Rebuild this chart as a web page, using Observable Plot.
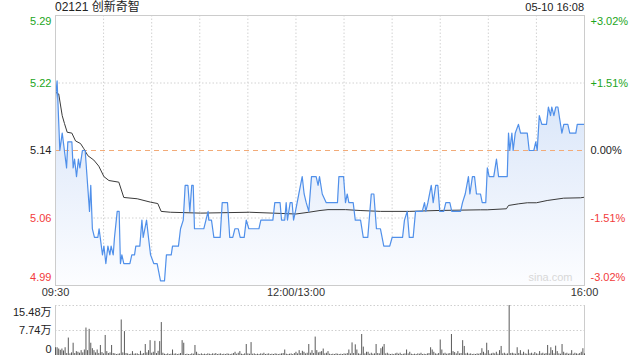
<!DOCTYPE html>
<html><head><meta charset="utf-8">
<script src="https://cdn.jsdelivr.net/npm/d3@7"></script>
<script src="https://cdn.jsdelivr.net/npm/@observablehq/plot@0.6"></script>
<style>
body{margin:0;background:#fff;font-family:Arial,"Liberation Sans","Noto Sans CJK SC",sans-serif;}
#wrap{position:relative;width:640px;height:360px;overflow:hidden;}
.hdr{position:absolute;top:0;font-size:12px;color:#222;line-height:14px;white-space:nowrap;}
#main,#vol{position:absolute;left:0;}
#main{top:0;} #vol{top:300px;}
</style></head><body>
<div id="wrap">
  <div class="hdr" id="title" style="left:55px;">02121 创新奇智</div>
  <div class="hdr" id="stamp" style="right:56px;font-size:11px;">05-10 16:08</div>
  <div id="main"></div>
  <div id="vol"></div>
</div>
<script>
// ---- data ----
const stockCode = "02121";
const stockName = "创新奇智";
const prevClose = 5.14;
const pctRange = 0.0302;
const yTickLabels = ["5.29", "5.22", "5.14", "5.06", "4.99"];
const pctTickLabels = ["+3.02%", "+1.51%", "0.00%", "-1.51%", "-3.02%"];
const xTickMinutes = [0, 150, 330];
const xTickLabels = ["09:30", "12:00/13:00", "16:00"];
const gridMinutes = [30, 60, 90, 120, 150, 180, 210, 240, 270, 300];
const volTickValues = [15.48, 7.74, 0];
const volTickLabels = ["15.48万", "7.74万", "0"];

// price vertices: minutes since 09:30 (lunch removed) and price
const priceT = [0,1,2.7,4.2,6.9,7.7,10.2,11,11.9,13.1,14.3,15.2,16.8,18.5,21.2,22,23,24.3,26.4,27.2,29.3,30.2,31.4,32.7,33.9,34.7,36,36.8,38.5,39.7,40.5,41.4,42.6,46.4,47.6,49.3,50.1,52.6,53.9,54.7,56.8,58,59.3,61.3,63.4,65.5,68,69.2,72.2,73,76.7,78,79.7,80.9,82.6,83.8,85,85.9,86.7,92.5,95.2,95.6,97.3,98.8,102.7,104,107.3,108.7,110.6,111.9,114,115.2,117.7,119,120.6,126.9,128.1,135.6,136.8,140.1,141,143,143.9,144.7,146.4,147.6,148.5,149.7,151.8,153.9,155.1,156.4,158,159.7,162.6,163.8,164.7,166.4,168.9,175.9,176.8,179.7,180.9,182,183,185.7,187,190.3,192,194.8,197,198.6,200.2,202.7,204.8,208.5,210,216.5,217.7,219.4,220.7,223.1,224.6,228.8,230.2,231,232.3,234.4,235.6,237.2,238.5,239.7,242.2,243.5,246,247.2,252.7,253.9,255.6,257.6,258.5,260.1,261.4,262.6,265.1,266.2,268.4,269.4,270.5,273.4,275.1,276.4,281.8,282.6,283.4,284.7,285.5,286.8,288.8,290.1,294.3,295.5,298.4,299.6,300.5,301.8,303.4,306.3,307.5,308.8,309.6,310.9,312.1,313.4,314.2,315.9,317.1,319.6,320.8,324.6,325.5,330];
const priceP = [5.20,5.22,5.14,5.16,5.12,5.15,5.15,5.12,5.13,5.11,5.13,5.12,5.14,5.14,5.07,5.10,5.05,5.04,5.04,5.05,5.02,5.03,5.01,5.03,5.02,5.03,5.02,5.04,5.07,5.07,5.01,5.02,5.01,5.01,5.02,5.02,5.03,5.03,5.06,5.04,5.06,5.04,5.02,5.01,5.01,4.99,4.99,5.02,5.02,5.03,5.03,5.05,5.06,5.10,5.10,5.07,5.10,5.10,5.05,5.05,5.07,5.06,5.06,5.04,5.04,5.08,5.08,5.04,5.04,5.05,5.05,5.04,5.04,5.06,5.05,5.05,5.06,5.06,5.08,5.08,5.06,5.06,5.08,5.06,5.08,5.08,5.06,5.07,5.09,5.11,5.09,5.08,5.07,5.11,5.11,5.10,5.11,5.09,5.08,5.08,5.11,5.11,5.08,5.09,5.08,5.08,5.06,5.06,5.04,5.04,5.09,5.09,5.05,5.05,5.03,5.03,5.04,5.04,5.06,5.07,5.04,5.04,5.07,5.07,5.08,5.07,5.08,5.10,5.08,5.10,5.10,5.07,5.07,5.08,5.08,5.07,5.07,5.08,5.09,5.11,5.09,5.11,5.11,5.09,5.09,5.08,5.08,5.12,5.11,5.11,5.13,5.11,5.11,5.16,5.14,5.16,5.14,5.16,5.17,5.16,5.16,5.14,5.14,5.15,5.14,5.18,5.17,5.17,5.19,5.18,5.19,5.18,5.19,5.19,5.18,5.16,5.17,5.17,5.16,5.16,5.17,5.17];

// average price line vertices
const avgT = [0,2,4.2,5.6,7.3,10.2,12.5,15.6,17.7,20.2,23.9,27,30.2,33.3,39.5,42.6,51,59.3,63.8,65.9,71.7,90.5,121,150,158,165,170,181,190,202.7,221,238,265,269.3,281.3,282.6,289,294.3,300,306.7,317,327.5,330];
const avgP = [5.207,5.205,5.18,5.171,5.161,5.16,5.151,5.148,5.142,5.134,5.129,5.122,5.11,5.1055,5.1036,5.086,5.0845,5.0806,5.079,5.070,5.069,5.068,5.069,5.067,5.069,5.071,5.072,5.072,5.071,5.070,5.070,5.071,5.0718,5.0718,5.073,5.0768,5.0787,5.0799,5.0799,5.0825,5.0852,5.0856,5.0863];

// per-minute volume, in 万 (10k shares), minutes 0..330
const volWan = [
2.4,2.4,2.0,1.6,2.0,1.4,2.4,0.6,5.4,0.5,
0.8,3.8,0.6,1.2,1.0,0.7,1.5,0.8,1.7,8.5,
1.5,8.1,3.8,2.1,1.5,0.8,1.7,0.6,3.1,0.9,
0.5,6.2,1.2,0.6,0.8,3.1,0.6,0.5,0.3,0.4,
0.5,11.0,0.8,7.4,0.6,0.5,0.3,0.4,1.2,0.4,
0.5,0.5,0.3,1.3,0.4,0.6,3.4,0.8,1.5,4.6,
0.7,1.0,4.4,0.6,1.3,4.3,10.2,0.7,0.4,0.3,
0.5,0.3,0.4,1.7,0.4,0.5,0.3,0.4,0.6,4.6,
3.8,0.3,0.4,0.3,0.3,0.5,0.4,3.1,1.0,0.4,
0.3,0.5,0.3,0.4,0.3,0.5,0.4,0.3,0.5,0.4,
0.6,0.3,0.4,0.5,0.3,0.4,0.3,0.5,0.4,0.3,
0.4,0.6,1.0,0.4,0.7,1.2,0.4,0.3,0.5,3.4,
0.5,0.4,4.0,0.4,0.5,0.3,0.4,0.3,0.5,0.4,
0.7,0.3,0.4,0.5,0.3,0.4,0.3,0.5,0.4,0.3,
0.4,0.5,0.6,1.7,0.4,0.3,0.4,0.5,0.3,0.6,
1.0,0.5,1.5,0.6,1.3,1.0,0.5,0.7,3.4,0.7,
1.5,0.6,5.7,1.5,0.8,1.0,1.2,2.0,0.5,0.7,
1.2,0.4,0.3,0.4,0.3,0.5,0.4,0.3,0.4,0.3,
0.5,0.4,0.6,1.7,0.5,3.9,0.6,3.3,1.7,0.5,
0.4,6.5,2.6,0.5,1.0,1.0,0.4,0.7,0.4,0.5,
3.4,0.6,0.5,2.1,2.6,3.4,0.5,0.7,0.4,0.3,
0.4,0.3,0.5,0.7,0.4,0.7,0.3,0.4,0.5,1.7,
0.5,1.0,0.4,0.3,0.4,0.3,0.5,0.4,0.7,0.3,
0.4,0.3,0.5,0.6,2.4,1.7,1.0,0.5,0.4,0.6,
4.8,1.7,0.5,0.7,0.4,0.5,0.6,6.5,1.2,0.9,
0.5,1.2,0.5,0.6,4.6,2.8,0.5,0.7,0.4,0.5,
0.3,0.4,0.3,0.5,0.4,0.6,2.1,1.0,0.5,3.8,
1.5,0.4,0.5,0.7,0.5,1.0,0.4,1.5,2.8,0.5,
0.7,0.4,0.5,15.48,0.6,0.7,0.5,0.4,2.4,0.6,
1.5,0.4,1.0,0.5,0.4,1.7,0.5,0.7,0.4,0.9,
0.5,0.4,1.2,0.5,0.7,0.4,0.6,3.1,0.5,2.4,
1.5,0.5,2.9,1.2,0.5,0.4,3.4,1.0,0.5,0.7,
0.4,0.5,1.5,0.4,0.7,0.5,0.4,0.6,1.0,2.1,0.5];

// ---- styling constants ----
const GREEN = "#1ca51c", RED = "#f23b3b", BLACK = "#222";
const tickColors = [GREEN, GREEN, BLACK, RED, RED];

// ---- derived tables ----
const yMax = prevClose * (1 + pctRange), yMin = prevClose * (1 - pctRange);
const yTickValues = [yMax, prevClose * (1 + pctRange / 2), prevClose, prevClose * (1 - pctRange / 2), yMin];
const ticks = yTickValues.map((v, i) => ({v, l: yTickLabels[i], r: pctTickLabels[i], c: tickColors[i], i}));
const priceRows = priceT.map((t, i) => ({t, p: priceP[i]}));
const avgRows = avgT.map((t, i) => ({t, p: avgP[i]}));
const xTicks = xTickMinutes.map((t, i) => ({t, l: xTickLabels[i]}));
const volRows = volWan.map((v, t) => ({t, v}));
const volTicks = volTickValues.map((v, i) => ({v, l: volTickLabels[i], i}));

const defsMark = () => {
  const ns = "http://www.w3.org/2000/svg";
  const defs = document.createElementNS(ns, "defs");
  const g = document.createElementNS(ns, "linearGradient");
  g.setAttribute("id", "areaGrad");
  g.setAttribute("gradientUnits", "userSpaceOnUse");
  g.setAttribute("x1", 0); g.setAttribute("x2", 0);
  g.setAttribute("y1", 15); g.setAttribute("y2", 285);
  [["0", "#cadcf7"], ["0.55", "#e6eefb"], ["1", "#fcfdff"]].forEach(([o, c]) => {
    const s = document.createElementNS(ns, "stop");
    s.setAttribute("offset", o); s.setAttribute("stop-color", c);
    g.appendChild(s);
  });
  defs.appendChild(g);
  return defs;
};

const common = {
  width: 640, marginLeft: 55, marginRight: 56,
  style: {fontFamily: "Arial, 'Liberation Sans', 'Noto Sans CJK SC', sans-serif", fontSize: "11px", background: "transparent", overflow: "visible"}
};

const main = Plot.plot({
  ...common,
  height: 300, marginTop: 15, marginBottom: 15,
  x: {domain: [0, 330], axis: null},
  y: {domain: [yMin, yMax], axis: null},
  marks: [
    defsMark,
    Plot.ruleX(gridMinutes, {stroke: "#d2d2d2", strokeDasharray: "1.5,2"}),
    Plot.ruleY([yTickValues[1], yTickValues[3]], {stroke: "#d2d2d2", strokeDasharray: "1.5,2"}),
    Plot.areaY(priceRows, {x: "t", y1: () => yMin, y2: "p", fill: "url(#areaGrad)"}),
    Plot.ruleY([prevClose], {stroke: "#f2ab78", strokeDasharray: "5,4"}),
    Plot.line(avgRows, {x: "t", y: "p", stroke: "#3a3a3a", strokeWidth: 1}),
    Plot.line(priceRows, {x: "t", y: "p", stroke: "#5090ea", strokeWidth: 1.2}),
    Plot.frame({stroke: "#cccccc"}),
    // left price labels
    Plot.text(ticks.filter(d => d.i > 0 && d.i < 4), {y: "v", text: "l", fill: "c", frameAnchor: "left", textAnchor: "end", dx: -4}),
    Plot.text(ticks.filter(d => d.i === 0), {y: "v", text: "l", fill: "c", frameAnchor: "left", textAnchor: "end", dx: -4, dy: 6}),
    Plot.text(ticks.filter(d => d.i === 4), {y: "v", text: "l", fill: "c", frameAnchor: "left", textAnchor: "end", dx: -4, dy: -8}),
    // right percent labels
    Plot.text(ticks.filter(d => d.i > 0 && d.i < 4), {y: "v", text: "r", fill: "c", frameAnchor: "right", textAnchor: "start", dx: 6}),
    Plot.text(ticks.filter(d => d.i === 0), {y: "v", text: "r", fill: "c", frameAnchor: "right", textAnchor: "start", dx: 6, dy: 6}),
    Plot.text(ticks.filter(d => d.i === 4), {y: "v", text: "r", fill: "c", frameAnchor: "right", textAnchor: "start", dx: 6, dy: -8}),
    // time labels
    Plot.text(xTicks, {x: "t", text: "l", frameAnchor: "bottom", dy: 10, fill: "#333",
      textAnchor: d => d.t === 0 ? "start" : d.t === 330 ? "end" : "middle"}),
    Plot.text(["sina.com"], {frameAnchor: "bottom-right", dx: -12, dy: -5, fill: "#d8d8d8", fontSize: 11})
  ]
});
document.getElementById("main").appendChild(main);

const vol = Plot.plot({
  ...common,
  height: 60, marginTop: 5, marginBottom: 5,
  x: {domain: [0, 330], axis: null},
  y: {domain: [0, 15.48], axis: null},
  marks: [
    Plot.ruleY([15.48, 7.74], {stroke: "#cfcfcf", strokeDasharray: "1.5,2"}),
    Plot.ruleX([0, 330], {stroke: "#cccccc"}),
    Plot.ruleX(volRows, {x: "t", y1: () => 0, y2: "v", stroke: "#5a5a5a", strokeWidth: 1}),
    Plot.text(volTicks.filter(d => d.i === 0), {y: "v", text: "l", frameAnchor: "left", textAnchor: "end", dx: -4, dy: 7, fill: "#222"}),
    Plot.text(volTicks.filter(d => d.i === 1), {y: "v", text: "l", frameAnchor: "left", textAnchor: "end", dx: -4, fill: "#222"}),
    Plot.text(volTicks.filter(d => d.i === 2), {y: "v", text: "l", frameAnchor: "left", textAnchor: "end", dx: -4, dy: -6, fill: "#222"})
  ]
});
document.getElementById("vol").appendChild(vol);
</script></body></html>
